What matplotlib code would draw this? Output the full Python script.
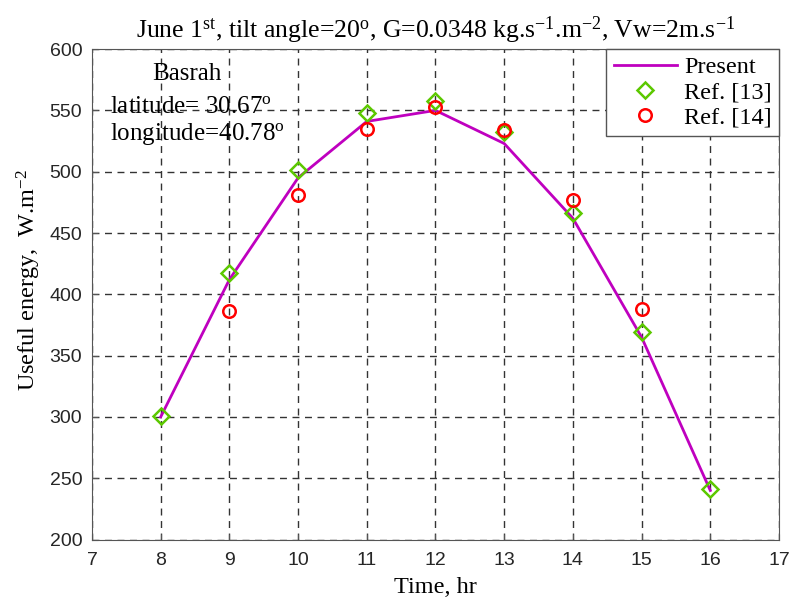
import matplotlib
matplotlib.use("Agg")
import matplotlib.pyplot as plt

plt.rcParams['font.family'] = ['Liberation Serif', 'DejaVu Serif']
plt.rcParams['mathtext.fontset'] = 'custom'
plt.rcParams['mathtext.rm'] = 'Liberation Serif'
plt.rcParams['mathtext.it'] = 'Liberation Serif:italic'

# data
hours = [8, 9, 10, 11, 12, 13, 14, 15, 16]
present = [300, 412, 495, 541, 550, 523, 462, 365, 240]
ref13 = [301, 417, 501, 548, 558, 532, 466, 369, 241]
ref14_hours = [9, 10, 11, 12, 13, 14, 15]
ref14 = [386, 481, 535, 553, 534, 477, 388]

fig = plt.figure(figsize=(7.91, 6.01), dpi=100)
ax = fig.add_axes([0.1163, 0.1023, 0.8685, 0.816])

ax.plot(hours, present, color='#BF00BF', lw=2, label='Present', zorder=3)
ax.plot(hours, ref13, ls='none', marker='D', ms=8.5, mfc='none', mec='#5CC800',
        mew=1.8, label='Ref. [13]', zorder=4)
ax.plot(ref14_hours, ref14, ls='none', marker='o', ms=9, mfc='none', mec='#FF0000',
        mew=1.8, label='Ref. [14]', zorder=4)

ax.set_xlim(7, 17)
ax.set_ylim(200, 600)
ax.set_xticks(range(7, 18))
ax.set_yticks(range(200, 601, 50))
ax.tick_params(direction='in', length=4, color='#555555', labelcolor='#262626')
for lab in ax.get_xticklabels() + ax.get_yticklabels():
    lab.set_fontfamily('Liberation Sans')
    lab.set_fontsize(14)
ax.tick_params(axis='x', pad=9)
ax.tick_params(axis='y', pad=7)
ax.grid(True, ls=(0, (5, 4)), color='#333333', lw=1)

ax.set_xlabel('Time, hr', fontsize=17.5)
ax.xaxis.set_label_coords(0.5, -0.076)
ax.set_ylabel(r'Useful energy,  W.m$^{\mathregular{-2}}$', fontsize=17.5)
ax.yaxis.set_label_coords(-0.071, 0.53)
ax.set_title(r'June 1$^{\mathregular{st}}$, tilt angle=20$^{\mathregular{o}}$, '
             r'G=0.0348 kg.s$^{\mathregular{-1}}$.m$^{\mathregular{-2}}$, '
             r'Vw=2m.s$^{\mathregular{-1}}$', fontsize=18.5, pad=8)

ax.text(0.138, 0.949, 'Basrah', transform=ax.transAxes, fontsize=18, ha='center', va='center')
ax.text(0.026, 0.882, r'latitude= 30.67$^{\mathregular{o}}$', transform=ax.transAxes,
        fontsize=18, va='center')
ax.text(0.026, 0.827, r'longitude=40.78$^{\mathregular{o}}$', transform=ax.transAxes,
        fontsize=18, va='center')

leg = ax.legend(loc='upper right', fontsize=17.5, frameon=True, fancybox=False,
                borderaxespad=0, handlelength=2.6, borderpad=0.3, labelspacing=0.12,
                handletextpad=0.3)
leg.get_frame().set_edgecolor('#555555')
leg.get_frame().set_linewidth(1)
leg.get_frame().set_alpha(1)

for s in ax.spines.values():
    s.set_color('#555555')

fig.savefig('out.png', dpi=100)
